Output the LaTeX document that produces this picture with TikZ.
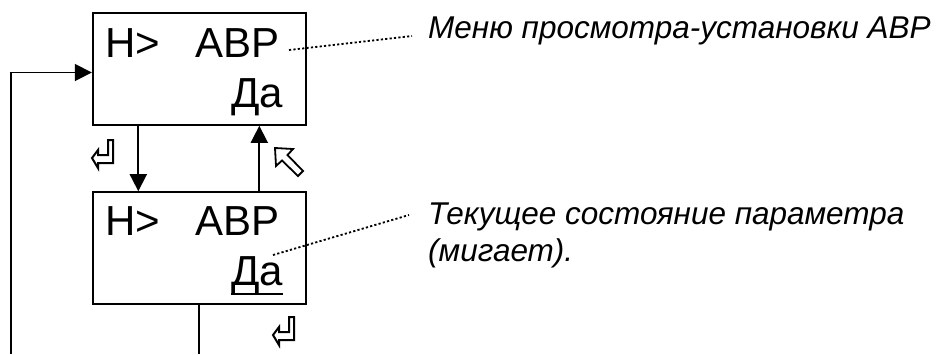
\documentclass[tikz,border=0pt]{standalone}
\usepackage{fontspec}
\setmainfont{Liberation Sans}
\usepackage{tikz}
\usetikzlibrary{arrows.meta, calc}
\tikzstyle{flow} = [line width=1.8pt, -{Triangle[length=17pt, width=17pt]}]

\begin{document}
\begin{tikzpicture}[
    x=1pt, y=-1pt,
    lcdbox/.style={rectangle, draw=black, line width=2pt, minimum width=213pt, minimum height=112pt, inner sep=0pt},
    lcdtext/.style={inner sep=0pt, font=\fontsize{42}{50}\selectfont},
    note/.style={inner sep=0pt, align=left, font=\fontsize{31.5}{37}\selectfont\itshape},
    leader/.style={line width=1.8pt, dash pattern=on 2.2pt off 2.2pt},
    enterkey/.pic={\draw[line width=2pt, line join=miter] (0,0) -- (6,-8) -- (6,-3) -- (16,-3) -- (16,-18) -- (21,-18) -- (21,5) -- (6,5) -- (6,10) -- cycle;},
    pointer/.pic={\draw[line width=1.8pt, line join=miter] (0,0) -- (1,18) -- (7,12.5) -- (23,28) -- (28,23) -- (12.5,7) -- (18,1) -- cycle;},
]
\useasboundingbox (0,0) rectangle (942,354);

% Display boxes
\node[lcdbox] (menu) at (199.3, 68.8) {};
\node[lcdbox] (edit) at (199.3, 248.2) {};

% Display text
\node[lcdtext, anchor=base west] (menuH) at (105, 57) {Н>};
\node[lcdtext, anchor=base east] (menuA) at (280, 57) {АВР};
\node[lcdtext, anchor=base east] (menuD) at (283, 107.5) {Да};
\node[lcdtext, anchor=base west] (editH) at (105, 235) {Н>};
\node[lcdtext, anchor=base east] (editA) at (280, 235) {АВР};
\node[lcdtext, anchor=base east] (editD) at (283, 285.5) {Да};
\draw[line width=2.8pt] ([yshift=-8.5pt]editD.base west) -- ([yshift=-8.5pt]editD.base east);

% Arrows
\coordinate (loopin) at (11, 354);
\coordinate (exit) at (199.3, 354);
\draw[flow] ([xshift=-61pt]menu.south) -- ([xshift=-61pt]edit.north);
\draw[flow] ([xshift=60pt]edit.north) -- ([xshift=60pt]menu.south);
\draw[line width=1.8pt] (edit.south) -- (exit);
\draw[flow] (loopin) |- ([yshift=-3.7pt]menu.west);

% Keys
\pic at (92, 158) {enterkey};
\pic at (273, 335) {enterkey};
\pic at (275, 148) {pointer};

% Annotations
\node[note, anchor=base west] (menunote) at (428, 38) {Меню просмотра-установки АВР};
\node[note, anchor=north west] (editnote) at (428, 203) {Текущее состояние параметра\\(мигает).};
\draw[leader] ([shift={(9pt,7pt)}]menuA.base east) -- ([shift={(-16pt,2pt)}]menunote.base west);
\draw[leader] ([shift={(-10pt,30.5pt)}]editD.base east) -- ([shift={(-19pt,-12pt)}]editnote.north west);

\end{tikzpicture}
\end{document}
